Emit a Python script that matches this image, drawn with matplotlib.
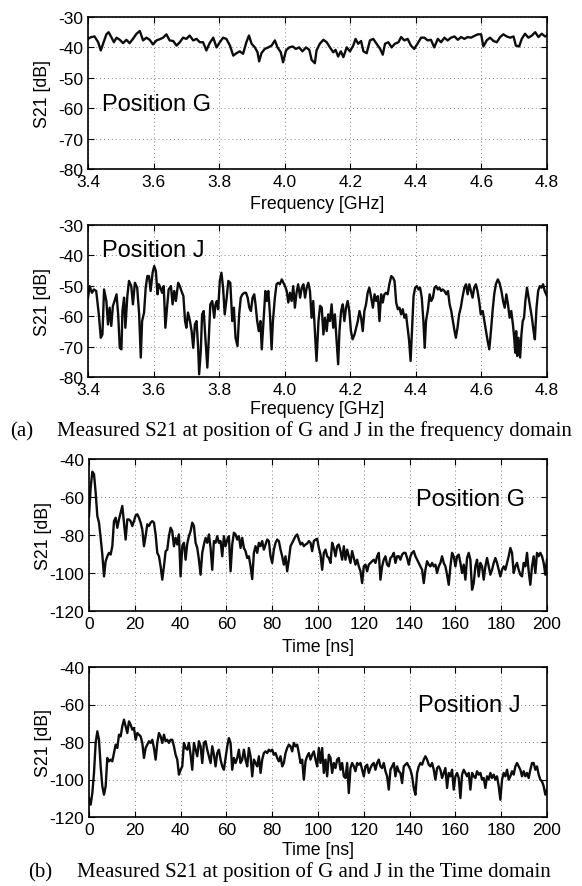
import numpy as np
import matplotlib
matplotlib.use("Agg")
import matplotlib.pyplot as plt

plt.rcParams['font.family'] = ['Liberation Sans', 'DejaVu Sans']
plt.rcParams['axes.unicode_minus'] = False

# ---------------- data ----------------
freq_g = [3.400,3.410,3.420,3.431,3.439,3.446,3.456,3.463,3.471,3.479,3.487,3.497,3.507,3.517,3.527,3.537,3.548,3.558,3.568,3.578,
          3.588,3.598,3.609,3.619,3.629,3.639,3.649,3.660,3.670,3.680,3.690,3.700,3.710,3.721,3.731,3.741,3.751,3.761,3.771,3.782,
          3.792,3.802,3.812,3.822,3.833,3.843,3.853,3.863,3.873,3.883,3.891,3.899,3.909,3.917,3.922,3.929,3.939,3.950,3.960,3.970,
          3.978,3.988,3.995,4.004,4.014,4.024,4.034,4.044,4.054,4.065,4.075,4.082,4.092,4.097,4.107,4.118,4.128,4.138,4.148,4.155,
          4.163,4.171,4.179,4.189,4.199,4.209,4.216,4.224,4.233,4.240,4.250,4.260,4.270,4.280,4.291,4.299,4.306,4.316,4.326,4.336,
          4.347,4.355,4.365,4.375,4.385,4.395,4.406,4.416,4.426,4.436,4.446,4.456,4.467,4.477,4.487,4.497,4.507,4.518,4.528,4.538,
          4.548,4.558,4.568,4.579,4.589,4.599,4.606,4.616,4.626,4.637,4.647,4.657,4.667,4.677,4.688,4.698,4.705,4.715,4.723,4.733,
          4.743,4.754,4.764,4.774,4.784,4.794,4.800]
s21_freq_g = [-37.2,-36.6,-36.4,-38.3,-41.0,-38.8,-35.7,-35.0,-36.6,-38.3,-36.8,-37.5,-38.6,-37.5,-38.6,-37.2,-35.5,-34.6,-37.7,-36.8,
              -37.5,-39.0,-37.7,-37.3,-36.8,-35.7,-37.7,-37.9,-39.4,-38.3,-36.8,-37.2,-36.1,-37.7,-37.2,-38.3,-38.3,-41.0,-38.6,-36.8,
              -40.0,-38.3,-36.8,-37.2,-39.4,-42.7,-41.9,-41.3,-42.1,-38.3,-36.1,-38.8,-40.0,-41.6,-44.6,-41.9,-40.5,-40.0,-39.4,-37.7,
              -40.0,-41.6,-44.9,-41.0,-40.0,-39.7,-40.5,-40.0,-41.3,-40.0,-40.8,-44.1,-45.2,-41.0,-38.8,-37.5,-38.3,-40.0,-41.6,-40.8,
              -43.0,-41.3,-43.2,-40.0,-41.3,-39.4,-37.2,-38.8,-37.9,-41.3,-41.9,-37.7,-37.2,-38.8,-40.5,-42.4,-38.8,-38.3,-40.0,-38.8,
              -38.3,-36.6,-37.7,-37.2,-39.4,-40.5,-38.6,-36.8,-36.8,-37.7,-37.5,-40.0,-37.2,-38.3,-36.8,-37.7,-36.8,-36.4,-37.5,-36.6,
              -37.2,-36.6,-36.8,-36.2,-35.7,-35.7,-39.7,-37.7,-36.8,-37.9,-38.3,-36.6,-35.7,-36.4,-36.8,-36.4,-39.4,-39.7,-37.2,-35.5,
              -36.8,-36.1,-35.0,-36.6,-35.5,-36.4,-36.1]

freq_j = [3.400,3.405,3.412,3.418,3.425,3.433,3.439,3.444,3.449,3.456,3.461,3.466,3.471,3.476,3.481,3.487,3.492,3.497,3.502,3.505,
          3.510,3.514,3.520,3.525,3.532,3.537,3.543,3.550,3.556,3.561,3.565,3.571,3.576,3.581,3.586,3.591,3.597,3.602,3.607,3.612,
          3.616,3.621,3.626,3.631,3.636,3.641,3.646,3.653,3.658,3.663,3.668,3.675,3.680,3.685,3.691,3.696,3.700,3.705,3.711,3.716,
          3.721,3.726,3.731,3.736,3.739,3.744,3.748,3.753,3.758,3.764,3.769,3.773,3.779,3.785,3.789,3.793,3.797,3.802,3.807,3.812,
          3.817,3.823,3.828,3.834,3.840,3.845,3.850,3.856,3.861,3.866,3.871,3.877,3.882,3.887,3.892,3.897,3.902,3.907,3.911,3.916,
          3.921,3.926,3.930,3.936,3.941,3.945,3.950,3.955,3.960,3.964,3.970,3.975,3.980,3.985,3.991,3.996,4.001,4.006,4.011,4.016,
          4.021,4.026,4.031,4.036,4.041,4.047,4.052,4.057,4.062,4.067,4.072,4.077,4.082,4.087,4.092,4.097,4.103,4.108,4.113,4.118,
          4.123,4.128,4.133,4.138,4.143,4.148,4.153,4.159,4.163,4.167,4.172,4.177,4.182,4.187,4.192,4.197,4.202,4.207,4.213,4.218,
          4.223,4.228,4.233,4.238,4.243,4.248,4.253,4.258,4.263,4.269,4.274,4.279,4.284,4.289,4.294,4.299,4.304,4.309,4.314,4.319,
          4.325,4.330,4.335,4.340,4.345,4.350,4.355,4.360,4.365,4.370,4.375,4.379,4.384,4.388,4.393,4.398,4.403,4.408,4.413,4.418,
          4.423,4.427,4.431,4.437,4.442,4.447,4.452,4.457,4.462,4.467,4.472,4.477,4.482,4.487,4.493,4.498,4.503,4.508,4.513,4.518,
          4.522,4.527,4.532,4.537,4.542,4.548,4.553,4.558,4.563,4.568,4.573,4.578,4.583,4.588,4.593,4.598,4.604,4.609,4.614,4.619,
          4.624,4.629,4.634,4.639,4.644,4.650,4.655,4.661,4.666,4.671,4.676,4.681,4.686,4.691,4.696,4.700,4.703,4.706,4.709,4.713,
          4.718,4.722,4.726,4.730,4.734,4.739,4.744,4.749,4.754,4.759,4.763,4.768,4.773,4.778,4.783,4.788,4.793,4.800]
s21_freq_j = [-53.9,-50.1,-52.3,-51.2,-51.7,-59.4,-67.1,-66.0,-51.2,-55.0,-62.7,-57.2,-63.2,-56.6,-55.0,-52.8,-59.4,-70.4,-70.9,-58.3,
              -53.9,-63.8,-53.4,-48.4,-50.1,-56.1,-49.0,-50.6,-59.4,-73.6,-61.6,-58.8,-50.6,-46.8,-46.8,-51.7,-45.7,-43.5,-45.1,-52.8,
              -49.5,-50.6,-52.3,-50.1,-63.8,-57.2,-51.2,-50.1,-56.1,-51.7,-55.0,-49.0,-50.1,-51.7,-53.4,-61.6,-63.8,-58.8,-61.6,-64.9,
              -70.4,-62.7,-61.6,-70.4,-79.1,-71.4,-59.4,-58.3,-67.1,-76.9,-66.0,-56.1,-55.0,-60.5,-56.1,-55.0,-57.7,-48.4,-45.7,-50.6,
              -59.4,-53.9,-48.4,-49.0,-61.6,-57.2,-67.1,-69.8,-59.4,-53.9,-52.8,-52.3,-52.3,-53.9,-57.2,-58.3,-53.9,-52.8,-56.1,-61.6,
              -64.9,-61.6,-70.9,-60.5,-51.7,-55.0,-51.7,-59.4,-70.9,-61.6,-53.9,-49.5,-49.0,-49.5,-47.9,-49.0,-50.1,-51.7,-55.5,-52.3,
              -55.0,-50.1,-57.2,-52.3,-49.5,-53.9,-50.6,-49.5,-53.9,-50.6,-49.0,-51.7,-60.5,-55.0,-64.9,-74.7,-61.6,-56.6,-57.2,-66.0,
              -60.5,-64.9,-59.4,-61.6,-56.1,-63.8,-59.4,-69.3,-75.8,-64.9,-58.3,-56.1,-61.6,-57.2,-55.0,-58.3,-64.9,-67.6,-66.0,-63.8,
              -61.6,-58.3,-60.5,-64.9,-58.3,-56.1,-52.3,-50.6,-53.4,-57.2,-52.8,-55.0,-53.4,-61.6,-52.8,-55.5,-52.8,-52.3,-52.8,-49.5,
              -46.8,-47.3,-48.4,-55.5,-57.7,-57.2,-59.4,-57.7,-60.5,-59.4,-63.8,-67.6,-74.7,-64.9,-53.4,-50.6,-50.1,-51.2,-50.6,-53.9,
              -61.6,-70.4,-61.6,-57.7,-52.8,-55.0,-53.9,-50.6,-50.1,-51.2,-50.6,-51.7,-51.2,-51.7,-52.8,-51.7,-56.1,-58.3,-61.6,-64.9,
              -67.1,-63.8,-59.4,-57.2,-53.9,-50.6,-49.5,-52.8,-49.5,-51.7,-53.9,-50.6,-49.5,-51.7,-55.0,-59.4,-58.3,-61.6,-64.9,-68.2,
              -70.9,-64.9,-58.3,-52.8,-49.5,-47.9,-49.0,-51.7,-55.0,-57.2,-52.8,-56.1,-60.5,-58.3,-62.7,-67.1,-72.0,-64.9,-73.1,-67.1,
              -73.6,-66.0,-61.6,-60.5,-55.0,-50.6,-53.9,-57.2,-60.5,-64.9,-67.6,-57.2,-51.7,-50.1,-50.6,-49.5,-51.7,-53.4]

# time-domain responses, uniformly sampled from 0 to 200 ns
s21_time_g = [-70.0,-55.0,-46.7,-47.9,-57.7,-70.0,-73.5,-81.5,-90.3,-101.8,-93.8,-91.2,-89.4,-90.3,-85.9,-72.7,-70.9,-76.2,-71.8,-68.2,
              -64.7,-73.5,-82.4,-71.8,-71.8,-72.7,-75.3,-72.7,-69.7,-69.1,-70.9,-73.5,-77.1,-85.9,-80.6,-74.4,-75.3,-73.5,-72.7,-73.5,
              -79.7,-89.4,-91.2,-96.5,-103.5,-96.5,-88.5,-87.7,-80.6,-76.2,-78.0,-85.9,-81.5,-85.0,-79.7,-101.8,-85.9,-84.1,
              -93.0,-84.5,-80.6,-78.0,-73.5,-75.3,-84.1,-86.8,-93.0,-100.9,
              -89.4,-85.0,-81.5,-84.1,-79.7,-86.8,-98.3,-83.2,-84.1,-80.6,
              -84.1,-83.2,-91.2,-80.6,-85.9,-82.4,-80.6,-99.1,-85.0,-78.8,
              -79.7,-82.4,-80.6,-86.8,-81.5,-86.8,-88.5,-92.1,-91.2,-96.5,
              -103.2,-89.4,-85.9,-89.4,-84.1,-85.9,-83.2,-87.7,-85.0,-82.4,
              -83.2,-91.2,-94.7,-87.7,-84.1,-82.4,-83.2,-87.7,-91.2,-95.6,
              -91.2,-99.1,-93.0,-85.9,-84.1,-82.4,-80.6,-79.7,-82.4,-85.0,
              -84.1,-85.9,-85.0,-84.5,-83.2,-84.1,-88.5,-83.2,-82.4,-82.0,
              -86.8,-90.3,-98.3,-89.4,-87.7,-91.2,-92.1,-94.7,-84.1,-86.8,
              -91.2,-85.9,-85.0,-88.5,-93.0,-85.9,-93.0,-87.7,-91.2,-94.7,
              -88.5,-92.1,-95.6,-93.0,-96.5,-99.1,-105.3,-96.5,-95.6,-99.1,
              -95.6,-94.7,-93.8,-93.0,-94.7,-91.2,-89.4,-103.5,-96.5,-93.0,
              -91.2,-95.6,-96.5,-92.1,-91.2,-89.4,-94.7,-91.2,-91.2,-93.0,
              -90.3,-89.4,-89.4,-92.1,-95.6,-91.2,-89.4,-88.5,-91.2,-93.0,
              -94.7,-96.5,-98.3,-105.3,-98.3,-93.8,-95.6,-96.5,-94.7,-96.5,
              -95.6,-100.0,-96.5,-94.7,-91.2,-94.7,-96.5,-100.9,-106.2,-96.5,
              -89.4,-91.2,-96.5,-91.2,-90.3,-94.7,-100.0,-95.6,-103.5,-92.1,
              -89.4,-93.0,-108.8,-105.3,-96.5,-93.0,-101.8,-94.7,-96.5,-103.5,
              -96.5,-92.1,-96.5,-100.9,-98.3,-94.7,-92.1,-94.7,-98.3,-101.8,
              -98.3,-96.5,-98.3,-94.7,-91.2,-86.8,-89.4,-100.0,-96.5,-94.7,
              -98.3,-100.9,-101.8,-94.7,-96.5,-89.4,-99.1,-106.2,-96.5,-91.2,
              -100.0,-89.4,-91.2,-89.4,-91.2,-94.7,-100.9,-93.0]

s21_time_j = [-109.9,-113.4,-107.2,-96.5,-80.5,-74.3,-78.8,-93.0,-103.6,-108.1,
              -103.6,-88.5,-90.3,-89.4,-90.3,-85.9,-81.4,-83.2,-76.1,-77.0,
              -71.6,-68.1,-71.6,-75.2,-69.0,-70.8,-73.4,-72.5,-78.8,-75.2,
              -76.1,-77.0,-80.5,-88.5,-83.2,-81.4,-79.6,-80.5,-78.8,-83.2,
              -89.4,-80.5,-75.2,-77.0,-80.5,-76.1,-79.6,-78.8,-80.5,-78.8,
              -78.8,-82.3,-86.8,-89.4,-97.4,-94.8,-93.0,-80.5,-83.2,-84.1,
              -80.5,-86.8,-94.8,-80.5,-84.1,-87.6,-79.6,-82.3,-91.2,-80.5,
              -79.6,-84.1,-87.6,-91.2,-82.3,-86.8,-93.0,-85.9,-84.1,-89.4,
              -93.0,-94.8,-88.5,-82.3,-77.9,-80.5,-94.8,-88.5,-91.2,-88.5,
              -84.1,-91.2,-89.4,-84.1,-89.4,-93.0,-83.2,-87.6,-98.3,-89.4,
              -91.2,-93.0,-87.6,-96.5,-89.4,-85.9,-85.0,-85.9,-84.1,-85.0,
              -84.1,-86.8,-85.9,-88.5,-90.3,-87.6,-93.0,-91.2,-85.9,-83.2,
              -81.4,-82.3,-85.0,-80.5,-82.3,-81.4,-85.9,-91.2,-89.4,-100.1,
              -90.3,-87.6,-85.9,-89.4,-86.8,-85.0,-89.4,-93.0,-83.2,-91.2,
              -83.2,-96.5,-89.4,-98.3,-86.8,-88.5,-96.5,-91.2,-93.9,-89.4,
              -88.5,-94.8,-91.2,-98.3,-99.2,-91.2,-107.2,-93.9,-91.2,-93.0,
              -95.6,-91.2,-92.1,-91.2,-94.8,-98.3,-93.0,-92.1,-96.5,-93.9,
              -92.1,-91.2,-94.8,-91.2,-89.4,-93.0,-93.9,-91.2,-95.6,-98.3,
              -105.4,-94.8,-93.0,-91.2,-98.3,-93.0,-95.6,-96.5,-101.9,-93.0,
              -92.1,-91.2,-93.0,-94.8,-98.3,-104.5,-108.1,-96.5,-93.0,-91.2,
              -92.1,-89.4,-87.6,-89.4,-92.1,-93.0,-91.2,-94.8,-100.1,-93.9,
              -93.0,-94.8,-99.2,-96.5,-93.9,-104.5,-96.5,-98.3,-94.8,-105.4,
              -98.3,-96.5,-99.2,-109.9,-97.4,-94.8,-96.5,-98.3,-96.5,-105.4,
              -96.5,-98.3,-99.2,-95.6,-97.4,-96.5,-100.1,-99.2,-104.5,-98.3,
              -100.1,-96.5,-99.2,-97.4,-100.1,-98.3,-103.6,-110.8,-100.1,-96.5,
              -98.3,-94.8,-100.1,-98.3,-95.6,-97.4,-93.0,-91.2,-93.0,-94.8,
              -98.3,-95.6,-98.3,-96.5,-99.2,-94.8,-91.2,-91.2,-94.8,-93.0,
              -97.4,-100.1,-101.0,-103.6,-108.1,-105.4]

time_g = np.linspace(0, 200, len(s21_time_g))
time_j = np.linspace(0, 200, len(s21_time_j))

freq_ticks = [3.4, 3.6, 3.8, 4.0, 4.2, 4.4, 4.6, 4.8]
freq_tick_labels = ["3.4", "3.6", "3.8", "4.0", "4.2", "4.4", "4.6", "4.8"]
freq_yticks = [-80, -70, -60, -50, -40, -30]
time_ticks = [0, 20, 40, 60, 80, 100, 120, 140, 160, 180, 200]
time_yticks = [-120, -100, -80, -60, -40]

# ---------------- figure ----------------
W_PX, H_PX = 582, 887
fig = plt.figure(figsize=(W_PX / 100, H_PX / 100), dpi=100)


def rect(left, top, right, bottom):
    return [left / W_PX, 1 - bottom / H_PX, (right - left) / W_PX, (bottom - top) / H_PX]


def style(ax, xlabel, label_base_px, ax_bottom_px, ax_h_px):
    ax.tick_params(direction='in', length=4, width=0.8, top=True, right=True,
                   labelsize=12.5, pad=3.5, colors='black')
    ax.grid(True, linestyle=(0, (1, 3)), color='0.5', linewidth=0.7)
    for s in ax.spines.values():
        s.set_linewidth(1.2)
        s.set_color('black')
    ax.set_ylabel('S21 [dB]', fontsize=12.8, va='center')
    ax.yaxis.set_label_coords(-0.100, 0.5)
    ax.set_xlabel(xlabel, fontsize=12.8, va='baseline')
    ax.xaxis.set_label_coords(0.5, -(label_base_px - ax_bottom_px) / ax_h_px)


line_kw = dict(color='#0d0d0d', linewidth=1.7)

# (a) frequency domain, position G
ax1 = fig.add_axes(rect(88, 18, 547, 170))
ax1.plot(freq_g, s21_freq_g, **line_kw)
ax1.set_xlim(3.4, 4.8)
ax1.set_ylim(-80, -30)
ax1.set_xticks(freq_ticks)
ax1.set_xticklabels(freq_tick_labels)
ax1.set_yticks(freq_yticks)
style(ax1, 'Frequency [GHz]', 209, 170, 152)
ax1.text(3.443, -60.6, 'Position G', fontsize=17, ha='left', va='baseline')

# (a) frequency domain, position J
ax2 = fig.add_axes(rect(88, 226, 547, 378))
ax2.plot(freq_j, s21_freq_j, **line_kw)
ax2.set_xlim(3.4, 4.8)
ax2.set_ylim(-80, -30)
ax2.set_xticks(freq_ticks)
ax2.set_xticklabels(freq_tick_labels)
ax2.set_yticks(freq_yticks)
style(ax2, 'Frequency [GHz]', 414, 378, 152)
ax2.text(3.443, -40.1, 'Position J', fontsize=17, ha='left', va='baseline')

# (b) time domain, position G
ax3 = fig.add_axes(rect(89, 460, 547, 612))
ax3.plot(time_g, s21_time_g, **line_kw)
ax3.set_xlim(0, 200)
ax3.set_ylim(-120, -40)
ax3.set_xticks(time_ticks)
ax3.set_yticks(time_yticks)
style(ax3, 'Time [ns]', 652, 612, 152)
ax3.text(142.8, -64.1, 'Position G', fontsize=17, ha='left', va='baseline')

# (b) time domain, position J
ax4 = fig.add_axes(rect(89, 668, 547, 818))
ax4.plot(time_j, s21_time_j, **line_kw)
ax4.set_xlim(0, 200)
ax4.set_ylim(-120, -40)
ax4.set_xticks(time_ticks)
ax4.set_yticks(time_yticks)
style(ax4, 'Time [ns]', 855, 818, 150)
ax4.text(143.7, -63.3, 'Position J', fontsize=17, ha='left', va='baseline')

# captions
cap_kw = dict(family=['Liberation Serif', 'DejaVu Serif'], fontsize=15, va='baseline', ha='left')
fig.text(10 / W_PX, 1 - 436 / H_PX, '(a)', **cap_kw)
fig.text(57 / W_PX, 1 - 436 / H_PX, 'Measured S21 at position of G and J in the frequency domain', **cap_kw)
fig.text(28 / W_PX, 1 - 877 / H_PX, '(b)', **cap_kw)
fig.text(77 / W_PX, 1 - 877 / H_PX, 'Measured S21 at position of G and J in the Time domain', **cap_kw)

fig.savefig('out.png', dpi=100)
